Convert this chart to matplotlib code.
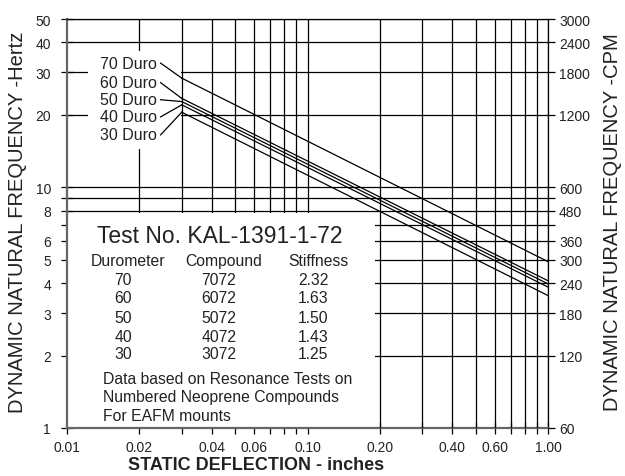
import numpy as np
import matplotlib
matplotlib.use('Agg')
import matplotlib.pyplot as plt
from matplotlib.patches import Rectangle
from matplotlib.ticker import NullFormatter, FixedLocator

matplotlib.rc('font', family=['Liberation Sans', 'DejaVu Sans'])

# durometer lines: Hz read at deflection 0.03 in and at 1.00 in
durometers = [70, 60, 50, 40, 30]
x_ends = [0.03, 1.0]
hz_start = [28.4, 23.4, 22.7, 22.0, 20.5]
hz_end = [4.91, 4.09, 3.97, 3.85, 3.55]

# leader lines from the "xx Duro" labels to the start of each line
label_x = 0.0245
label_hz = [32.8, 27.2, 23.1, 19.6, 16.5]

compounds = ['7072', '6072', '5072', '4072', '3072']
stiffness = ['2.32', '1.63', '1.50', '1.43', '1.25']

x_major = [0.01, 0.02, 0.04, 0.06, 0.1, 0.2, 0.4, 0.6, 1.0]
x_labels = ['0.01', '0.02', '0.04', '0.06', '0.10', '0.20', '0.40', '0.60', '1.00']
x_minor = [0.03, 0.05, 0.07, 0.08, 0.09, 0.3, 0.5, 0.7, 0.8, 0.9]
hz_major = [1, 2, 3, 4, 5, 6, 8, 10, 20, 30, 40, 50]
hz_minor = [7, 9]
cpm_major = [60, 120, 180, 240, 300, 360, 480, 600, 1200, 1800, 2400, 3000]
cpm_minor = [420, 540]

txt = '#222222'
W, H = 625, 477
fig = plt.figure(figsize=(W / 100, H / 100), dpi=100)
ax = fig.add_axes([67 / W, 1 - 429 / H, (548 - 67) / W, (429 - 20) / H])
ax.set_xscale('log')
ax.set_yscale('log')
ax.set_xlim(0.01, 1.0)
ax.set_ylim(1, 50)

# grid
for x in x_major[1:] + x_minor:
        ax.axvline(x, color='black', lw=0.9, zorder=3 if x >= 0.2 else 2)
for y in hz_major[1:] + hz_minor:
        ax.axhline(y, color='black', lw=0.9, zorder=2)

# white panel behind the test table
ax.add_patch(Rectangle((0.01, 1), 0.191 - 0.01, 7.85 - 1, facecolor='white',
                       edgecolor='none', zorder=2.2))
# white panel behind the durometer labels
ax.add_patch(Rectangle((0.01223, 14.4), 0.0298 - 0.01223, 36.8 - 14.4,
                       facecolor='white', edgecolor='none', zorder=2.2))

# durometer curves
for d, h0, h1, hl in zip(durometers, hz_start, hz_end, label_hz):
        ax.plot(x_ends, [h0, h1], color='black', lw=0.9, zorder=4)
        ax.plot([label_x, 0.03], [hl, h0], color='black', lw=0.9, zorder=4)
        ax.text(label_x * 0.965, hl, f'{d} Duro', ha='right', va='center',
                fontsize=11.5, color=txt, zorder=5)

ax.xaxis.set_major_locator(FixedLocator(x_major))
ax.xaxis.set_minor_locator(FixedLocator(x_minor))
ax.set_xticklabels(x_labels)
ax.xaxis.set_minor_formatter(NullFormatter())
ax.yaxis.set_major_locator(FixedLocator(hz_major))
ax.yaxis.set_minor_locator(FixedLocator(hz_minor))
ax.set_yticklabels([str(v) for v in hz_major])
ax.yaxis.set_minor_formatter(NullFormatter())
ax.tick_params(axis='both', which='both', direction='inout', length=9,
               width=0.9, labelsize=10, labelcolor=txt, pad=4)
ax.tick_params(axis='y', which='both', pad=7)
for s in ['left', 'bottom']:
        ax.spines[s].set_color('#666666')
        ax.spines[s].set_linewidth(1.6)
for s in ['top', 'right']:
        ax.spines[s].set_linewidth(0.9)

ax2 = ax.twinx()
ax2.set_yscale('log')
ax2.set_ylim(60, 3000)
ax2.yaxis.set_major_locator(FixedLocator(cpm_major))
ax2.yaxis.set_minor_locator(FixedLocator(cpm_minor))
ax2.set_yticklabels([str(v) for v in cpm_major])
ax2.yaxis.set_minor_formatter(NullFormatter())
ax2.tick_params(axis='y', which='both', direction='out', length=5, width=0.9,
                labelsize=10, labelcolor=txt, pad=3)
for s in ax2.spines.values():
        s.set_visible(False)

# table text
ax.text(0.0433, 6.28, 'Test No. KAL-1391-1-72', ha='center', va='center',
        fontsize=16.5, color=txt, zorder=5)
ax.text(0.01794, 4.94, 'Durometer', ha='center', va='center', fontsize=11.3, color=txt, zorder=5)
ax.text(0.04496, 4.94, 'Compound', ha='center', va='center', fontsize=11.3, color=txt, zorder=5)
ax.text(0.1106, 4.94, 'Stiffness', ha='center', va='center', fontsize=11.3, color=txt, zorder=5)
row_hz = [4.12, 3.47, 2.89, 2.41, 2.03]
for d, c, s, yh in zip(durometers, compounds, stiffness, row_hz):
        ax.text(0.0171, yh, str(d), ha='center', va='center', fontsize=11.3, color=txt, zorder=5)
        ax.text(0.04286, yh, c, ha='center', va='center', fontsize=11.3, color=txt, zorder=5)
        ax.text(0.1054, yh, s, ha='center', va='center', fontsize=11.3, color=txt, zorder=5)
notes = ['Data based on Resonance Tests on', 'Numbered Neoprene Compounds',
         'For EAFM mounts']
for note, yh in zip(notes, [1.613, 1.358, 1.132]):
        ax.text(0.01411, yh, note, ha='left', va='center', fontsize=11.3, color=txt, zorder=5)

fig.text(256 / W, 1 - 466 / H, 'STATIC DEFLECTION - inches', ha='center', va='center',
         fontsize=13, fontweight='bold', color=txt)
fig.text(18 / W, 1 - 222 / H, 'DYNAMIC NATURAL FREQUENCY -Hertz', rotation=90,
         ha='center', va='center', fontsize=14.5, color=txt)
fig.text(612 / W, 1 - 222 / H, 'DYNAMIC NATURAL FREQUENCY -CPM', rotation=90,
         ha='center', va='center', fontsize=14.5, color=txt)

fig.savefig('out.png', dpi=100)
